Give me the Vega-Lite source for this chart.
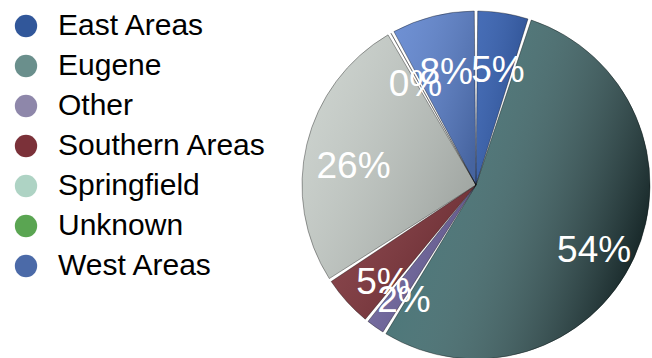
{
  "$schema": "https://vega.github.io/schema/vega-lite/v6.json",
  "width": 352,
  "height": 350,
  "autosize": "none",
  "padding": {"left": 300, "top": 10, "right": 0, "bottom": 0},
  "background": "white",
  "config": {"view": {"stroke": null}, "font": "Liberation Sans"},
  "data": {"values": [
    {"area": "East Areas", "value": 5, "label": "5%"},
    {"area": "Eugene", "value": 54, "label": "54%"},
    {"area": "Other", "value": 2, "label": "2%"},
    {"area": "Southern Areas", "value": 5, "label": "5%"},
    {"area": "Springfield", "value": 26, "label": "26%"},
    {"area": "Unknown", "value": 0.3, "label": "0%"},
    {"area": "West Areas", "value": 8, "label": "8%"}
  ]},
  "encoding": {
    "theta": {"field": "value", "type": "quantitative", "stack": true},
    "order": {"field": "area", "sort": "ascending"}
  },
  "layer": [
    {
      "mark": {"type": "arc", "radius": 174, "padAngle": 0.02},
      "encoding": {
        "color": {"field": "area", "type": "nominal", "legend": null,
          "scale": {"domain": ["East Areas", "Eugene", "Other", "Southern Areas", "Springfield", "Unknown", "West Areas"],
                    "range": ["#2c58ab", "#35676a", "#6a5f9c", "#7a2d34", "#c6cdc8", "#4a8a3a", "#5a80cc"]}}
      }
    },
    {
      "mark": {"type": "arc", "radius": 174, "padAngle": 0.02, "stroke": "rgba(0,0,0,0.35)", "strokeWidth": 1},
      "encoding": {
        "fill": {
          "condition": {"test": "datum.area === 'Eugene'",
            "value": {"gradient": "linear", "x1": 0, "y1": 0.3, "x2": 1, "y2": 0.7,
              "stops": [{"offset": 0, "color": "rgba(255,255,255,0.02)"}, {"offset": 1, "color": "rgba(0,0,0,0.7)"}]}},
          "value": {"gradient": "linear", "x1": 0, "y1": 0.2, "x2": 1, "y2": 0.8,
            "stops": [{"offset": 0, "color": "rgba(255,255,255,0.12)"}, {"offset": 1, "color": "rgba(0,0,0,0.22)"}]}
        }
      }
    },
    {
      "mark": {"type": "text", "radius": 128, "dx": 2, "dy": 12, "fontSize": 37, "fill": "white", "font": "Liberation Sans"},
      "encoding": {"text": {"field": "label"}}
    },
    {
      "mark": {"type": "arc", "radius": 0},
      "encoding": {
        "color": {"field": "area", "type": "nominal",
          "scale": {"domain": ["East Areas", "Eugene", "Other", "Southern Areas", "Springfield", "Unknown", "West Areas"],
                    "range": ["#31579a", "#6a8f8c", "#8e87aa", "#7b3139", "#aed3c4", "#5aa552", "#4b6aa8"]},
          "legend": {"title": null, "orient": "none", "legendX": -289, "legendY": 1, "padding": 0,
            "symbolType": "circle", "symbolSize": 500, "symbolOpacity": 1, "symbolStrokeWidth": 0,
            "labelFontSize": 30, "labelFont": "Liberation Sans", "labelColor": "black", "labelOffset": 17, "rowPadding": 10, "labelLimit": 300}}
      }
    }
  ],
  "resolve": {"scale": {"color": "independent"}}
}
